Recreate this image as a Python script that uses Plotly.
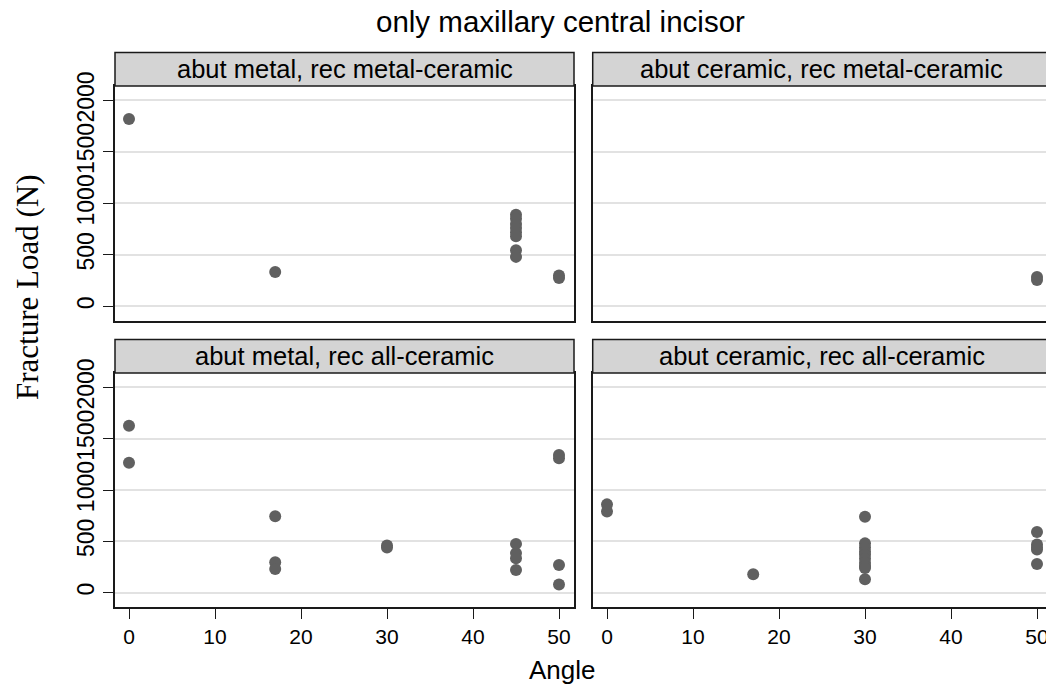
import plotly.graph_objects as go

W, H = 1046, 691

panel_titles = [
    "abut metal, rec metal-ceramic",
    "abut ceramic, rec metal-ceramic",
    "abut metal, rec all-ceramic",
    "abut ceramic, rec all-ceramic",
]

# panel 1: abut metal, rec metal-ceramic
angle_mm = [0, 17, 45, 45, 45, 45, 45, 45, 45, 45, 50, 50]
load_mm = [1820, 334, 890, 850, 800, 760, 720, 680, 545, 480, 300, 275]
# panel 2: abut ceramic, rec metal-ceramic
angle_cm = [50, 50]
load_cm = [285, 255]
# panel 3: abut metal, rec all-ceramic
angle_ma = [0, 0, 17, 17, 17, 30, 30, 45, 45, 45, 45, 50, 50, 50, 50]
load_ma = [1625, 1265, 745, 295, 230, 460, 440, 475, 385, 335, 220, 1340, 1310, 270, 80]
# panel 4: abut ceramic, rec all-ceramic
angle_ca = [0, 0, 17, 30, 30, 30, 30, 30, 30, 30, 30, 30, 30, 50, 50, 50, 50, 50]
load_ca = [860, 790, 180, 740, 480, 440, 400, 370, 330, 290, 260, 240, 130, 590, 470, 440, 420, 280]

x_ticks = [0, 10, 20, 30, 40, 50]
y_ticks = [0, 500, 1000, 1500, 2000]

title_text = "only maxillary central incisor"
x_title = "Angle"
y_title = "Fracture Load (N)"

SANS = "Liberation Sans, Arial, Helvetica, sans-serif"
SERIF = "Liberation Serif, Times New Roman, serif"
MARKER = "#606060"
LINE = "#1a1a1a"
GRID = "#e2e2e2"
STRIP = "#d4d4d4"

# layout in pixels
left_px = (115, 574)
right_px = (592.7, 1046)
top_px = (86, 320.7)
bot_px = (373, 607)
strip_h = 33.5

def px_x(v):
    return v / W

def px_y(v):
    return 1 - v / H

fig = go.Figure()
data = [(angle_mm, load_mm), (angle_cm, load_cm), (angle_ma, load_ma), (angle_ca, load_ca)]
for i, (xs, ys) in enumerate(data):
    sfx = "" if i == 0 else str(i + 1)
    fig.add_trace(go.Scatter(
        x=xs, y=ys, mode="markers",
        marker=dict(size=12, color=MARKER, line=dict(width=0)),
        xaxis="x" + sfx, yaxis="y" + sfx, showlegend=False, hoverinfo="x+y",
        cliponaxis=False,
    ))

panels = [
    (left_px, top_px, False, True),
    (right_px, top_px, False, False),
    (left_px, bot_px, True, True),
    (right_px, bot_px, True, False),
]

layout = dict(
    width=W, height=H, autosize=False,
    margin=dict(l=0, r=0, t=0, b=0, pad=0),
    paper_bgcolor="white", plot_bgcolor="white",
    font=dict(family=SANS, color="black"),
    showlegend=False,
)

shapes = []
annotations = []
for i, (xp, yp, show_x, show_y) in enumerate(panels):
    sfx = "" if i == 0 else str(i + 1)
    xl, xr = xp
    x0px = 129 if xp == left_px else 607
    scale = 430 / 50
    xrange = [(xl - x0px) / scale, (xr - x0px) / scale]
    layout["xaxis" + sfx] = dict(
        domain=[px_x(xl), px_x(xr)], range=xrange, anchor="y" + sfx,
        automargin=False, ticklabeloverflow="allow",
        showgrid=False, zeroline=False, showline=True, linecolor=LINE, linewidth=1.5,
        mirror=True, tickvals=x_ticks,
        ticks="outside" if show_x else "", ticklen=10, tickwidth=1.3, tickcolor=LINE,
        showticklabels=show_x, tickfont=dict(size=21, family=SANS),
        fixedrange=True,
    )
    layout["yaxis" + sfx] = dict(
        domain=[px_y(yp[1]), px_y(yp[0])], range=[-140, 2140], anchor="x" + sfx,
        automargin=False, ticklabeloverflow="allow",
        showgrid=True, gridcolor=GRID, gridwidth=1.5, zeroline=False,
        showline=True, linecolor=LINE, linewidth=1.5, mirror=show_y,
        tickvals=y_ticks, ticks="outside" if show_y else "", ticklen=10, tickwidth=1.3,
        tickcolor=LINE, showticklabels=show_y, tickangle=-90,
        tickfont=dict(size=23, family=SANS), fixedrange=True,
    )
    xr_strip = xr if xp == left_px else 1051
    shapes.append(dict(
        type="rect", xref="paper", yref="paper",
        x0=px_x(xl), x1=px_x(xr_strip), y0=px_y(yp[0]), y1=px_y(yp[0] - strip_h),
        fillcolor=STRIP, line=dict(color=LINE, width=1.5), layer="above",
    ))
    annotations.append(dict(
        text=panel_titles[i], xref="paper", yref="paper",
        x=px_x((xl + xr_strip) / 2), y=px_y(yp[0] - strip_h / 2),
        xanchor="center", yanchor="middle", showarrow=False,
        font=dict(size=25.5, family=SANS, color="black"),
    ))

annotations.append(dict(
    text=title_text, xref="paper", yref="paper", x=px_x(560), y=px_y(22),
    xanchor="center", yanchor="middle", showarrow=False,
    font=dict(size=29.5, family=SANS, color="black"),
))
annotations.append(dict(
    text=x_title, xref="paper", yref="paper", x=px_x(562), y=px_y(670),
    xanchor="center", yanchor="middle", showarrow=False,
    font=dict(size=26, family=SANS, color="black"),
))
annotations.append(dict(
    text=y_title, xref="paper", yref="paper", x=px_x(27), y=px_y(287),
    xanchor="center", yanchor="middle", showarrow=False, textangle=-90,
    font=dict(size=31, family=SERIF, color="black"),
))

layout["shapes"] = shapes
layout["annotations"] = annotations
fig.update_layout(**layout)
fig.write_html("out.html")
